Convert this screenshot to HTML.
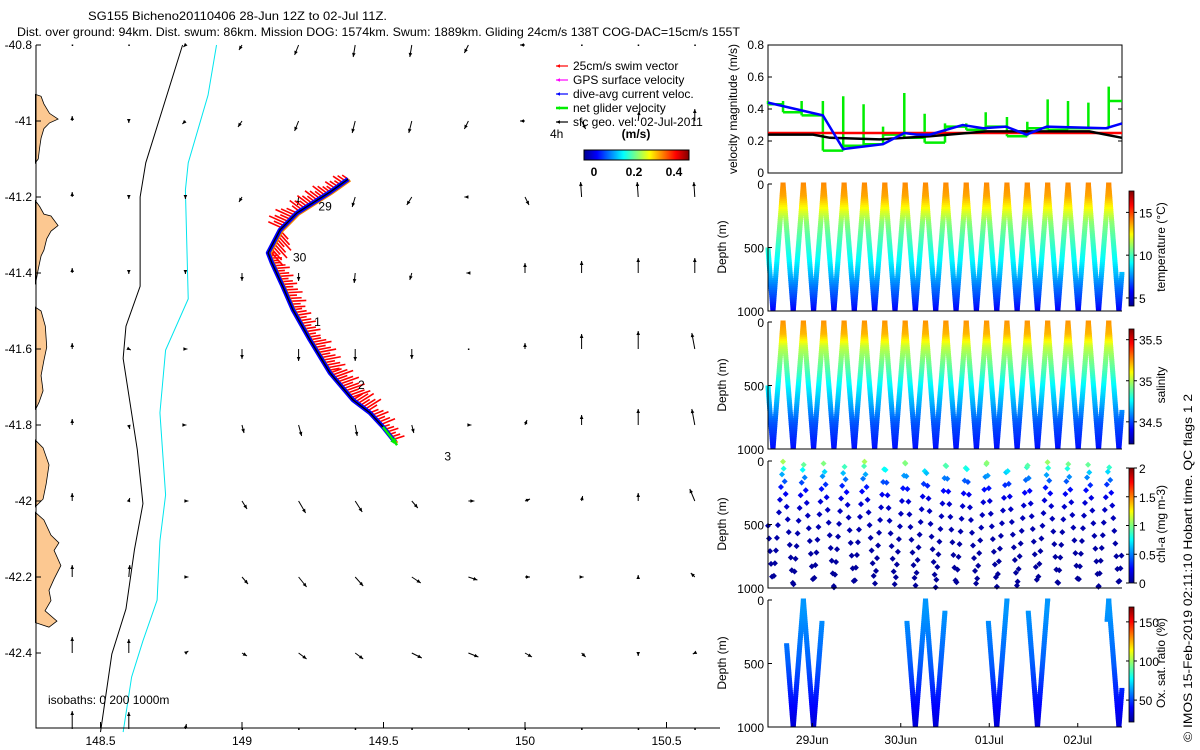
<!DOCTYPE html>
<html>
<head>
<meta charset="utf-8">
<style>
html,body{margin:0;padding:0;background:#fff;}
svg{display:block;font-family:"Liberation Sans",Arial,sans-serif;}
text{font-size:12px;fill:#000;}
</style>
</head>
<body>
<svg id="fig" width="1200" height="750" viewBox="0 0 1200 750" xmlns="http://www.w3.org/2000/svg">
<defs>
<linearGradient id="jetH" x1="0" y1="0" x2="1" y2="0">
<stop offset="0" stop-color="#00008f"/><stop offset="0.125" stop-color="#0000ff"/><stop offset="0.375" stop-color="#00ffff"/><stop offset="0.625" stop-color="#ffff00"/><stop offset="0.875" stop-color="#ff0000"/><stop offset="1" stop-color="#800000"/>
</linearGradient>
<linearGradient id="jetV" x1="0" y1="1" x2="0" y2="0">
<stop offset="0" stop-color="#00008f"/><stop offset="0.125" stop-color="#0000ff"/><stop offset="0.375" stop-color="#00ffff"/><stop offset="0.625" stop-color="#ffff00"/><stop offset="0.875" stop-color="#ff0000"/><stop offset="1" stop-color="#800000"/>
</linearGradient>
</defs>
<text x="88" y="20" textLength="299" lengthAdjust="spacingAndGlyphs">SG155 Bicheno20110406 28-Jun 12Z to 02-Jul 11Z.</text>
<text x="17" y="36" textLength="723" lengthAdjust="spacingAndGlyphs">Dist. over ground: 94km. Dist. swum: 86km. Mission DOG: 1574km. Swum: 1889km. Gliding 24cm/s 138T COG-DAC=15cm/s 155T</text>
<g id="map"></g>
<g id="right"></g>
<text transform="translate(1192,742) rotate(-90)" textLength="348" lengthAdjust="spacingAndGlyphs">© IMOS 15-Feb-2019 02:11:10 Hobart time. QC flags 1  2</text>
</svg>
<script>
// ---------------- DATA ----------------
const gridLons = [148.4,148.6,148.8,149.0,149.2,149.4,149.6,149.8,150.0,150.2,150.4,150.6];
const gridLats = [-40.8,-41.0,-41.2,-41.4,-41.6,-41.8,-42.0,-42.2,-42.4,-42.6];
const uVel = [
 [0,0,-4,-6,-8,-4,-4,-8,-10,0,0,0],
 [0,0,-6,-8,-8,-6,-6,-8,-10,8,2,0],
 [0,0,0,-6,-2,-6,-10,-8,8,-2,-2,-2],
 [0,0,0,0,0,-2,-4,-4,0,0,0,0],
 [0,4,4,0,0,0,0,0,0,0,0,-6],
 [0,2,2,4,6,4,4,6,4,0,0,-6],
 [0,2,6,10,14,14,12,12,10,2,0,-10],
 [0,2,6,12,16,16,18,18,10,4,0,-8],
 [0,0,6,10,16,16,20,20,14,8,0,-4],
 [0,0,2,0,0,0,0,0,0,0,0,0]
];
const vVel = [
 [0,0,-4,-10,-20,-24,-24,-16,0,0,0,0],
 [10,-4,-6,-12,-20,-24,-24,-16,0,-16,20,24],
 [10,-4,-4,-10,-16,-20,-16,0,-16,30,30,30],
 [10,-2,-2,-16,-16,-20,-14,0,20,24,30,30],
 [12,-2,0,-20,-24,-24,-20,0,12,30,36,32],
 [12,-8,0,-16,-22,-22,-16,0,10,20,32,32],
 [16,6,0,-16,-24,-22,-14,0,4,10,16,24],
 [24,24,0,-14,-20,-18,-12,-6,0,0,4,8],
 [32,28,4,-6,-12,-12,-10,-8,-8,-8,-6,-2],
 [36,34,10,0,0,0,0,0,0,0,0,0]
];
const trackLon = [149.375,149.311,149.194,149.134,149.092,149.106,149.145,149.180,149.240,149.311,149.392,149.452,149.498,149.541];
const trackLat = [-41.153,-41.187,-41.242,-41.287,-41.347,-41.374,-41.437,-41.497,-41.576,-41.663,-41.734,-41.768,-41.805,-41.845];
const swimLen = [14,18,22,24,14,18,20,18,22,24,22,18,14,8];
const dayLabels = ["29","30","1","2","3"];
const dayLon = [149.27,149.18,149.255,149.41,149.715];
const dayLat = [-41.235,-41.37,-41.54,-41.705,-41.893];
const coastPolys = [
 [[148.27,-40.93],[148.29,-40.935],[148.30,-40.955],[148.32,-40.98],[148.35,-40.995],[148.32,-41.005],[148.30,-41.02],[148.29,-41.045],[148.285,-41.07],[148.28,-41.10],[148.27,-41.11]],
 [[148.27,-41.21],[148.285,-41.225],[148.30,-41.245],[148.325,-41.25],[148.35,-41.275],[148.325,-41.29],[148.31,-41.31],[148.30,-41.34],[148.29,-41.355],[148.28,-41.39],[148.27,-41.43]],
 [[148.27,-41.49],[148.29,-41.50],[148.305,-41.54],[148.31,-41.595],[148.30,-41.63],[148.29,-41.67],[148.297,-41.71],[148.283,-41.74],[148.27,-41.76]],
 [[148.27,-41.84],[148.297,-41.86],[148.318,-41.905],[148.308,-41.955],[148.297,-41.995],[148.27,-42.015]],
 [[148.27,-42.03],[148.30,-42.05],[148.325,-42.09],[148.353,-42.11],[148.336,-42.13],[148.36,-42.17],[148.336,-42.205],[148.318,-42.235],[148.325,-42.262],[148.304,-42.289],[148.346,-42.316],[148.318,-42.332],[148.27,-42.32]]
];
const iso200 = [[148.79,-40.8],[148.66,-41.11],[148.64,-41.20],[148.64,-41.435],[148.59,-41.54],[148.58,-41.625],[148.63,-41.865],[148.65,-42.007],[148.62,-42.128],[148.59,-42.284],[148.54,-42.403],[148.50,-42.608]];
const iso1000 = [[148.91,-40.8],[148.88,-40.932],[148.81,-41.11],[148.80,-41.182],[148.81,-41.468],[148.73,-41.603],[148.71,-41.768],[148.73,-41.984],[148.71,-42.105],[148.70,-42.261],[148.65,-42.368],[148.61,-42.463],[148.58,-42.608]];
const blueT = [0,0.62,0.85,1.3,1.54,1.68,1.83,2.2,2.43,2.69,2.92,3.15,3.82,4.0];
const blueV = [0.44,0.36,0.15,0.18,0.25,0.24,0.24,0.30,0.28,0.29,0.24,0.29,0.28,0.31];
const blackT = [0,0.51,0.7,1.26,1.83,2.47,3.63,4.0];
const blackV = [0.24,0.24,0.22,0.21,0.23,0.26,0.26,0.22];
const redT = [0,4.0];
const redV = [0.25,0.25];
const greenT = [0,0.17,0.38,0.62,0.85,1.08,1.30,1.54,1.77,2.0,2.24,2.46,2.70,2.93,3.16,3.39,3.62,3.85,4.0];
const greenV = [0.43,0.38,0.36,0.14,0.17,0.18,0.24,0.22,0.19,0.29,0.27,0.29,0.23,0.28,0.27,0.28,0.28,0.45];
const greenSpike = [0.45,0.45,0.45,0.45,0.48,0.43,0.29,0.50,0.37,0.31,0.31,0.38,0.35,0.32,0.46,0.45,0.44,0.54];
const surfaceT = [-0.058,0.17,0.40,0.63,0.86,1.09,1.32,1.55,1.78,2.01,2.24,2.47,2.70,2.93,3.16,3.39,3.62,3.85,4.08];
const profDepth = [0,100,200,300,400,500,600,700,800,900,1000];
const tempProf = [14.0,13.6,12.3,11.0,10.3,9.7,9.1,8.3,7.4,6.6,5.7];
const salProf = [35.25,35.2,35.02,34.93,34.85,34.75,34.68,34.6,34.52,34.47,34.42];
const oxyProf = [62,62,60,58,56,54,50,46,42,38,34];
const chlProf = [1.1,0.6,0.3,0.18,0.12,0.1,0.08,0.07,0.06,0.05,0.05];
// per-dive depth offset (m) of chl sampling bins
const chlOffset = [10,60,30,85,45,5,70,20,95,40,65,15,80,35,55,25,90,50];
const oxyWindowsStart = [0.21,1.57,2.49,2.94,3.83];
const oxyWindowsEnd = [0.61,2.0,2.70,3.16,4.0];
const dateTicks = ["29Jun","30Jun","01Jul","02Jul"];
const dateTickT = [0.5,1.5,2.5,3.5];

// ---------------- HELPERS ----------------
const NS = "http://www.w3.org/2000/svg";
function el(tag, parent, attrs){const e=document.createElementNS(NS,tag);for(const k in attrs)e.setAttribute(k,attrs[k]);parent.appendChild(e);return e;}
function clamp(v){return Math.max(0,Math.min(1,v));}
function jet(x){x=clamp(x);const r=clamp(1.5-Math.abs(4*x-3)),g=clamp(1.5-Math.abs(4*x-2)),b=clamp(1.5-Math.abs(4*x-1));return "rgb("+Math.round(r*255)+","+Math.round(g*255)+","+Math.round(b*255)+")";}
function interp(xs,ys,x){if(x<=xs[0])return ys[0];for(let i=1;i<xs.length;i++){if(x<=xs[i]){const f=(x-xs[i-1])/(xs[i]-xs[i-1]);return ys[i-1]+f*(ys[i]-ys[i-1]);}}return ys[ys.length-1];}

// ---------------- MAP ----------------
const map = document.getElementById('map');
const MX0=36,MX1=720,MY0=45,MY1=728;
function lx(lon){return 242+(lon-149)*283;}
function ly(lat){return 45+(-40.8-lat)*380;}

coastPolys.forEach(p=>{
  const poly=el('polygon',map,{points:p.map(q=>lx(q[0])+","+ly(q[1])).join(" "),fill:"#fcc891",stroke:"#000","stroke-width":"0.8"});
  
  
});
const i200=el('polyline',map,{points:iso200.map(q=>lx(q[0])+","+ly(q[1])).join(" "),fill:"none",stroke:"#000","stroke-width":"1"});


const i1000=el('polyline',map,{points:iso1000.map(q=>lx(q[0])+","+ly(q[1])).join(" "),fill:"none",stroke:"#00e5ee","stroke-width":"1"});



function arrow(parent,x,y,dx,dy,color,w,hs){
  const L=Math.hypot(dx,dy);
  if(L<0.8){const d=el('rect',parent,{x:x-0.5,y:y-0.5,width:1.5,height:1.5,fill:color});return d;}
  const g=el('g',parent,{});
  el('line',g,{x1:x,y1:y,x2:x+dx,y2:y+dy,stroke:color,"stroke-width":w});
  const ux=dx/L,uy=dy/L,hx=x+dx,hy=y+dy;
  const bx=hx-ux*hs,by=hy-uy*hs;
  el('polygon',g,{points:hx+","+hy+" "+(bx-uy*hs*0.45)+","+(by+ux*hs*0.45)+" "+(bx+uy*hs*0.45)+","+(by-ux*hs*0.45),fill:color});
  return g;
}
gridLats.forEach((lat,r)=>{
  gridLons.forEach((lon,c)=>{
    const a=arrow(map,lx(lon),ly(lat),uVel[r][c]*0.5,-vVel[r][c]*0.5,"#000",1,4);
    
    
  });
});

const tx=trackLon.map(lx), ty=trackLat.map(ly);
const swimG=el('g',map,{});


for(let i=0;i<tx.length-1;i++){
  const dx=tx[i+1]-tx[i],dy=ty[i+1]-ty[i],L=Math.hypot(dx,dy);
  let nx=dy/L,ny=-dx/L; if(nx<0||ny>0.5){nx=-nx;ny=-ny;}
  const k=Math.max(2,Math.round(L/3));
  for(let j=0;j<k;j++){
    const f=j/k;
    const px=tx[i]+dx*f,py=ty[i]+dy*f;
    const len=swimLen[i]*(0.6+0.4*((j%3)/2));
    el('line',swimG,{x1:px,y1:py,x2:px+(nx*0.8+dx/L*0.3)*len,y2:py+(ny*0.8+dy/L*0.3)*len,stroke:"#ff0000","stroke-width":"1.6"});
  }
}
const under=el('polyline',map,{points:tx.map((x,i)=>(x+2)+","+(ty[i]+1)).join(" "),fill:"none",stroke:"#f08000","stroke-width":"3"});


const dac=el('polyline',map,{points:tx.map((x,i)=>x+","+ty[i]).join(" "),fill:"none",stroke:"#0000ff","stroke-width":"4.5","stroke-linejoin":"round"});


const trk=el('polyline',map,{points:tx.map((x,i)=>x+","+ty[i]).join(" "),fill:"none",stroke:"#000","stroke-width":"1.3"});


const n=tx.length;
const ga=arrow(map,tx[n-2],ty[n-2],tx[n-1]-tx[n-2]+2,ty[n-1]-ty[n-2]+3,"#00ee00",2.5,7);


dayLabels.forEach((d,i)=>{
  const t=el('text',map,{x:lx(dayLon[i]),y:ly(dayLat[i])});
  t.textContent=d;
  
  
});

const ax=el('path',map,{d:"M"+MX0+" "+MY0+" V"+MY1+" H"+MX1,fill:"none",stroke:"#000","stroke-width":"1"});


const latTicks=["-40.8","-41","-41.2","-41.4","-41.6","-41.8","-42","-42.2","-42.4"];
latTicks.forEach(s=>{
  const y=ly(parseFloat(s));
  el('line',map,{x1:MX0,y1:y,x2:MX0+5,y2:y,stroke:"#000"});
  const t=el('text',map,{x:MX0-4,y:y+4,"text-anchor":"end"});
  t.textContent=s;
  
  
});
const lonTicks=["148.5","149","149.5","150","150.5"];
lonTicks.forEach(s=>{
  const x=lx(parseFloat(s));
  el('line',map,{x1:x,y1:MY1,x2:x,y2:MY1-6,stroke:"#000"});
  const t=el('text',map,{x:x,y:MY1+17,"text-anchor":"middle"});
  t.textContent=s;
  
  
});
const isoT=el('text',map,{x:48,y:704});
isoT.setAttribute('xml:space','preserve');
isoT.textContent="isobaths: 0   200  1000m";



const legColors=["#ff0000","#ff00ff","#0000ff","#00ee00","#000000"];
const legLabels=["25cm/s swim vector","GPS surface velocity","dive-avg current veloc.","net glider velocity","sfc geo. vel: 02-Jul-2011"];
legLabels.forEach((s,i)=>{
  const y=66+i*14;
  const a=arrow(map,568,y,-12,0,legColors[i],i==3?2.5:1.2,4);
  
  
  const t=el('text',map,{x:573,y:y+4});
  t.textContent=s;
  
  
});
const t4=el('text',map,{x:550,y:138});t4.textContent="4h";


const tu=el('text',map,{x:636,y:138,"text-anchor":"middle","font-weight":"bold"});tu.textContent="(m/s)";


const cb=el('rect',map,{x:584,y:150,width:105,height:10,fill:"url(#jetH)",stroke:"#000"});


const cbTickLabels=["0","0.2","0.4"];
const cbTickVals=[0,0.2,0.4];
cbTickLabels.forEach((s,i)=>{
  const x=594+cbTickVals[i]*200;
  const t=el('text',map,{x:x,y:176,"text-anchor":"middle","font-weight":"bold"});
  t.textContent=s;
  
  
});

// ---------------- RIGHT PANELS ----------------
const R=document.getElementById('right');
const PX0=768,PX1=1122;
function tx2(t){return PX0+t*88.5;}
const VY0=45,VY1=173;
function vy(v){return VY1-v*160;}
const vf=el('rect',R,{x:PX0,y:VY0,width:PX1-PX0,height:VY1-VY0,fill:"none",stroke:"#000"});


const vTicks=["0","0.2","0.4","0.6","0.8"];
vTicks.forEach(s=>{
  const y=vy(parseFloat(s));
  el('line',R,{x1:PX0,y1:y,x2:PX0+4,y2:y,stroke:"#000"});
  el('line',R,{x1:PX1,y1:y,x2:PX1-4,y2:y,stroke:"#000"});
  const t=el('text',R,{x:PX0-4,y:y+4,"text-anchor":"end"});
  t.textContent=s;
  
  
});
const vyl=el('text',R,{transform:"translate(737,109) rotate(-90)","text-anchor":"middle"});
vyl.textContent="velocity magnitude (m/s)";


let gd="";
for(let i=0;i<greenV.length;i++){
  const x0=tx2(greenT[i]),x1=tx2(greenT[i+1]);
  const prev=i>0?greenV[i-1]:greenV[0];
  gd+="M"+x0+" "+vy(Math.min(prev,greenV[i]))+" V"+vy(greenSpike[i])+" M"+x0+" "+vy(greenV[i])+" H"+x1+" ";
}
const gp=el('path',R,{d:gd,fill:"none",stroke:"#00ee00","stroke-width":"2.5"});


const rp=el('polyline',R,{points:redT.map((t,i)=>tx2(t)+","+vy(redV[i])).join(" "),fill:"none",stroke:"#ff0000","stroke-width":"2.5"});


const kp=el('polyline',R,{points:blackT.map((t,i)=>tx2(t)+","+vy(blackV[i])).join(" "),fill:"none",stroke:"#000","stroke-width":"2.5"});


const bp=el('polyline',R,{points:blueT.map((t,i)=>tx2(t)+","+vy(blueV[i])).join(" "),fill:"none",stroke:"#0000ff","stroke-width":"2.5"});



function yoSamples(step,offsets){
  const out=[];
  for(let i=0;i<surfaceT.length-1;i++){
    const s0=surfaceT[i],s1=surfaceT[i+1],mid=(s0+s1)/2;
    const o=offsets?offsets[i]:0;
    for(let d=o;d<=1000;d+=step){
      const ta=s0+(mid-s0)*d/1000;
      if(ta>=0&&ta<=4.0)out.push([ta,d]);
    }
    const o2=offsets?offsets[(i+5)%offsets.length]:0;
    for(let d=o2;d<=1000;d+=step){
      const tb=s1-(s1-mid)*d/1000;
      if(tb>=0&&tb<=4.0)out.push([tb,d]);
    }
  }
  return out;
}
function depthPanel(name,y0,prof,vmin,vmax,ticks,tickVals,label,step,shape,filterFn,offsets){
  const y1=y0+127;
  const g=el('g',R,{});
  
  
  const dy=d=>y0+d*0.127;
  yoSamples(step,offsets).forEach(([t,d])=>{
    if(filterFn&&!filterFn(t,d))return;
    const v=interp(profDepth,prof,d);
    const c=jet((v-vmin)/(vmax-vmin));
    const x=tx2(t),y=dy(d);
    let m;
    if(shape==="diamond")m=el('polygon',g,{points:x+","+(y-3)+" "+(x+3)+","+y+" "+x+","+(y+3)+" "+(x-3)+","+y,fill:c});
    else m=el('rect',g,{x:x-2.5,y:y-1.5,width:5,height:3,fill:c});
    
    
  });
  el('path',g,{d:"M"+PX0+" "+y0+" V"+y1+" H"+PX1,fill:"none",stroke:"#000"});
  [0,500,1000].forEach(d=>{
    el('line',g,{x1:PX0,y1:dy(d),x2:PX0+4,y2:dy(d),stroke:"#000"});
    const t=el('text',g,{x:PX0-4,y:dy(d)+5,"text-anchor":"end"});
    t.textContent=String(d);
    
    
  });
  const yl=el('text',g,{transform:"translate(726,"+(y0+63)+") rotate(-90)","text-anchor":"middle"});
  yl.textContent="Depth (m)";
  
  
  const cy0=y0+7,cy1=y0+122;
  const c=el('rect',g,{x:1129,y:cy0,width:5,height:cy1-cy0,fill:"url(#jetV)",stroke:"#000","stroke-width":"0.8"});
  
  
  ticks.forEach((s,i)=>{
    const y=cy1-(tickVals[i]-vmin)/(vmax-vmin)*(cy1-cy0);
    el('line',g,{x1:1134,y1:y,x2:1137,y2:y,stroke:"#000"});
    el('line',g,{x1:1129,y1:y,x2:1126,y2:y,stroke:"#000"});
    const t=el('text',g,{x:1139,y:y+5});
    t.textContent=s;
    
    
  });
  const cl=el('text',g,{transform:"translate(1165,"+(y0+63)+") rotate(-90)","text-anchor":"middle"});
  cl.textContent=label;
  
  
  return {g,dy,y1};
}
depthPanel('temperature-panel',184,tempProf,4.06,17.5,["5","10","15"],[5,10,15],"temperature (°C)",16,"rect");
depthPanel('salinity-panel',322,salProf,34.23,35.63,["34.5","35","35.5"],[34.5,35,35.5],"salinity",16,"rect");
depthPanel('chlorophyll-panel',461,chlProf,0,2,["0","0.5","1","1.5","2"],[0,0.5,1,1.5,2],"chl-a (mg m-3)",100,"diamond",()=>true,chlOffset);
depthPanel('oxygen-panel',600,oxyProf,22,169,["50","100","150"],[50,100,150],"Ox. sat. ratio (%)",16,"rect",(t,d)=>{
  for(let i=0;i<oxyWindowsStart.length;i++){if(t>=oxyWindowsStart[i]&&t<=oxyWindowsEnd[i])return true;}return false;});
dateTicks.forEach((s,i)=>{
  const x=tx2(dateTickT[i]);
  el('line',R,{x1:x,y1:727,x2:x,y2:723,stroke:"#000"});
  const t=el('text',R,{x:x,y:744,"text-anchor":"middle"});
  t.textContent=s;
  
  
});
</script>
</body>
</html>
